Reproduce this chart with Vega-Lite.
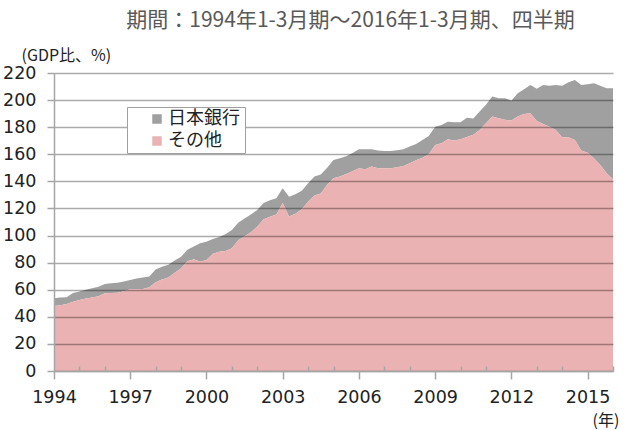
{
  "$schema": "https://vega.github.io/schema/vega-lite/v6.json",
  "autosize": "none",
  "width": 559,
  "height": 298,
  "padding": {"left": 54, "top": 73, "right": 16, "bottom": 59},
  "background": "white",
  "title": {
    "text": "期間：1994年1-3月期～2016年1-3月期、四半期",
    "font": "Noto Sans CJK JP",
    "fontSize": 21,
    "fontWeight": "normal",
    "color": "#595959",
    "anchor": "middle",
    "dx": 17,
    "dy": -12,
    "frame": "group"
  },
  "config": {
    "view": {"stroke": null},
    "font": "Noto Sans CJK JP"
  },
  "data": {
    "values": [
      {"t": 1994.00, "その他": 48.0, "日本銀行": 5.7},
      {"t": 1994.25, "その他": 48.5, "日本銀行": 5.7},
      {"t": 1994.50, "その他": 49.5, "日本銀行": 5.0},
      {"t": 1994.75, "その他": 51.2, "日本銀行": 6.3},
      {"t": 1995.00, "その他": 52.4, "日本銀行": 6.2},
      {"t": 1995.25, "その他": 53.5, "日本銀行": 6.5},
      {"t": 1995.50, "その他": 54.2, "日本銀行": 6.8},
      {"t": 1995.75, "その他": 55.2, "日本銀行": 7.0},
      {"t": 1996.00, "その他": 57.4, "日本銀行": 6.9},
      {"t": 1996.25, "その他": 57.6, "日本銀行": 7.2},
      {"t": 1996.50, "その他": 57.8, "日本銀行": 7.4},
      {"t": 1996.75, "その他": 58.8, "日本銀行": 7.2},
      {"t": 1997.00, "その他": 60.3, "日本銀行": 6.9},
      {"t": 1997.25, "その他": 60.3, "日本銀行": 8.0},
      {"t": 1997.50, "その他": 60.5, "日本銀行": 8.5},
      {"t": 1997.75, "その他": 61.8, "日本銀行": 7.9},
      {"t": 1998.00, "その他": 65.5, "日本銀行": 9.5},
      {"t": 1998.25, "その他": 67.5, "日本銀行": 9.5},
      {"t": 1998.50, "その他": 69.0, "日本銀行": 9.5},
      {"t": 1998.75, "その他": 72.5, "日本銀行": 9.0},
      {"t": 1999.00, "その他": 75.8, "日本銀行": 8.6},
      {"t": 1999.25, "その他": 81.0, "日本銀行": 8.5},
      {"t": 1999.50, "その他": 82.5, "日本銀行": 9.5},
      {"t": 1999.75, "その他": 80.7, "日本銀行": 13.6},
      {"t": 2000.00, "その他": 82.0, "日本銀行": 13.5},
      {"t": 2000.25, "その他": 86.5, "日本銀行": 11.0},
      {"t": 2000.50, "その他": 88.1, "日本銀行": 10.9},
      {"t": 2000.75, "その他": 88.5, "日本銀行": 12.5},
      {"t": 2001.00, "その他": 90.6, "日本銀行": 13.5},
      {"t": 2001.25, "その他": 96.5, "日本銀行": 13.0},
      {"t": 2001.50, "その他": 99.5, "日本銀行": 13.0},
      {"t": 2001.75, "その他": 102.5, "日本銀行": 13.0},
      {"t": 2002.00, "その他": 106.6, "日本銀行": 12.3},
      {"t": 2002.25, "その他": 112.0, "日本銀行": 12.0},
      {"t": 2002.50, "その他": 113.8, "日本銀行": 12.2},
      {"t": 2002.75, "その他": 115.5, "日本銀行": 12.0},
      {"t": 2003.00, "その他": 124.0, "日本銀行": 10.9},
      {"t": 2003.25, "その他": 114.0, "日本銀行": 14.7},
      {"t": 2003.50, "その他": 116.0, "日本銀行": 14.5},
      {"t": 2003.75, "その他": 119.5, "日本銀行": 13.5},
      {"t": 2004.00, "その他": 125.0, "日本銀行": 13.6},
      {"t": 2004.25, "その他": 129.5, "日本銀行": 14.0},
      {"t": 2004.50, "その他": 131.0, "日本銀行": 14.0},
      {"t": 2004.75, "その他": 137.5, "日本銀行": 12.5},
      {"t": 2005.00, "その他": 142.3, "日本銀行": 13.5},
      {"t": 2005.25, "その他": 143.5, "日本銀行": 13.5},
      {"t": 2005.50, "その他": 145.5, "日本銀行": 13.0},
      {"t": 2005.75, "その他": 147.5, "日本銀行": 13.5},
      {"t": 2006.00, "その他": 149.7, "日本銀行": 14.0},
      {"t": 2006.25, "その他": 149.0, "日本銀行": 14.7},
      {"t": 2006.50, "その他": 150.9, "日本銀行": 12.8},
      {"t": 2006.75, "その他": 149.7, "日本銀行": 13.1},
      {"t": 2007.00, "その他": 149.7, "日本銀行": 12.8},
      {"t": 2007.25, "その他": 149.7, "日本銀行": 12.8},
      {"t": 2007.50, "その他": 150.5, "日本銀行": 12.5},
      {"t": 2007.75, "その他": 151.4, "日本銀行": 12.3},
      {"t": 2008.00, "その他": 153.4, "日本銀行": 12.4},
      {"t": 2008.25, "その他": 155.5, "日本銀行": 12.0},
      {"t": 2008.50, "その他": 157.5, "日本銀行": 13.0},
      {"t": 2008.75, "その他": 160.0, "日本銀行": 13.5},
      {"t": 2009.00, "その他": 166.9, "日本銀行": 13.5},
      {"t": 2009.25, "その他": 168.2, "日本銀行": 13.5},
      {"t": 2009.50, "その他": 171.1, "日本銀行": 13.0},
      {"t": 2009.75, "その他": 170.1, "日本銀行": 13.6},
      {"t": 2010.00, "その他": 171.1, "日本銀行": 12.6},
      {"t": 2010.25, "その他": 172.8, "日本銀行": 14.2},
      {"t": 2010.50, "その他": 174.5, "日本銀行": 12.0},
      {"t": 2010.75, "その他": 178.0, "日本銀行": 13.5},
      {"t": 2011.00, "その他": 182.9, "日本銀行": 13.6},
      {"t": 2011.25, "その他": 187.8, "日本銀行": 14.8},
      {"t": 2011.50, "その他": 186.6, "日本銀行": 14.8},
      {"t": 2011.75, "その他": 185.4, "日本銀行": 16.0},
      {"t": 2012.00, "その他": 184.9, "日本銀行": 14.7},
      {"t": 2012.25, "その他": 187.8, "日本銀行": 17.3},
      {"t": 2012.50, "その他": 189.8, "日本銀行": 18.2},
      {"t": 2012.75, "その他": 190.3, "日本銀行": 20.9},
      {"t": 2013.00, "その他": 184.6, "日本銀行": 23.7},
      {"t": 2013.25, "その他": 182.4, "日本銀行": 28.8},
      {"t": 2013.50, "その他": 180.4, "日本銀行": 30.1},
      {"t": 2013.75, "その他": 178.0, "日本銀行": 33.2},
      {"t": 2014.00, "その他": 172.6, "日本銀行": 37.9},
      {"t": 2014.25, "その他": 172.6, "日本銀行": 40.6},
      {"t": 2014.50, "その他": 170.6, "日本銀行": 44.3},
      {"t": 2014.75, "その他": 162.7, "日本銀行": 48.5},
      {"t": 2015.00, "その他": 161.2, "日本銀行": 50.5},
      {"t": 2015.25, "その他": 157.1, "日本銀行": 55.4},
      {"t": 2015.50, "その他": 152.1, "日本銀行": 58.4},
      {"t": 2015.75, "その他": 146.0, "日本銀行": 62.8},
      {"t": 2016.00, "その他": 141.6, "日本銀行": 67.2}
    ]
  },
  "transform": [
    {"fold": ["日本銀行", "その他"], "as": ["series", "value"]}
  ],
  "mark": {"type": "area", "interpolate": "linear"},
  "encoding": {
    "x": {
      "field": "t",
      "type": "quantitative",
      "scale": {"domain": [1994, 2016], "nice": false, "zero": false},
      "axis": {
        "title": "(年)",
        "titleFont": "Noto Sans CJK JP",
        "titleFontSize": 16,
        "titleFontWeight": "normal",
        "titleColor": "#222222",
        "titleAnchor": "start",
        "titleAlign": "left",
        "titleBaseline": "middle",
        "titleX": 538,
        "titleY": 49,
        "values": [1994, 1995, 1996, 1997, 1998, 1999, 2000, 2001, 2002, 2003, 2004, 2005, 2006, 2007, 2008, 2009, 2010, 2011, 2012, 2013, 2014, 2015, 2016],
        "labelExpr": "(datum.value - 1994) % 3 == 0 && datum.value < 2016 ? format(datum.value, 'd') : ''",
        "labelFont": "DejaVu Sans",
        "labelFontSize": 17.5,
        "labelColor": "#222222",
        "labelPadding": 9,
        "labelOverlap": false,
        "labelFlush": false,
        "grid": false,
        "domainColor": "#a6a6a6",
        "domainWidth": 1.5,
        "tickColor": "#a6a6a6",
        "tickWidth": 1.5,
        "tickSize": {"condition": {"test": "(datum.value - 1994) % 3 == 0", "value": 8}, "value": -5},
        "zindex": 1
      }
    },
    "y": {
      "field": "value",
      "type": "quantitative",
      "stack": "zero",
      "scale": {"domain": [0, 220], "nice": false},
      "axis": {
        "title": "(GDP比、%)",
        "titleFont": "Noto Sans CJK JP",
        "titleFontSize": 16,
        "titleFontWeight": "normal",
        "titleColor": "#222222",
        "titleAngle": 0,
        "titleAlign": "left",
        "titleBaseline": "middle",
        "titleX": -33,
        "titleY": -18,
        "values": [0, 20, 40, 60, 80, 100, 120, 140, 160, 180, 200, 220],
        "labelFont": "DejaVu Sans",
        "labelFontSize": 17.5,
        "labelColor": "#222222",
        "labelPadding": 11,
        "grid": true,
        "gridColor": "#000000",
        "gridOpacity": 0.33,
        "gridWidth": 1.5,
        "domainColor": "#a6a6a6",
        "domainWidth": 1.5,
        "tickColor": "#a6a6a6",
        "tickWidth": 1.5,
        "tickSize": 7,
        "zindex": 1
      }
    },
    "color": {
      "field": "series",
      "type": "nominal",
      "scale": {"domain": ["日本銀行", "その他"], "range": ["#a0a0a0", "#eab2b2"]},
      "legend": {
        "title": "\u3000",
        "titleOrient": "right",
        "titlePadding": 2,
        "titleFontSize": 18,
        "titleFont": "Noto Sans CJK JP",
        "orient": "none",
        "legendX": 73,
        "legendY": 34,
        "direction": "vertical",
        "symbolType": "square",
        "symbolSize": 90,
        "symbolStrokeWidth": 0,
        "symbolOpacity": 1,
        "symbolOffset": 18,
        "labelFont": "Noto Sans CJK JP",
        "labelFontSize": 18,
        "labelColor": "#222222",
        "labelOffset": 2,
        "rowPadding": 4,
        "padding": 3,
        "strokeColor": "#a0a0a0",
        "fillColor": "white",
        "zindex": 2
      }
    },
    "order": {"field": "series", "sort": "ascending"}
  }
}
